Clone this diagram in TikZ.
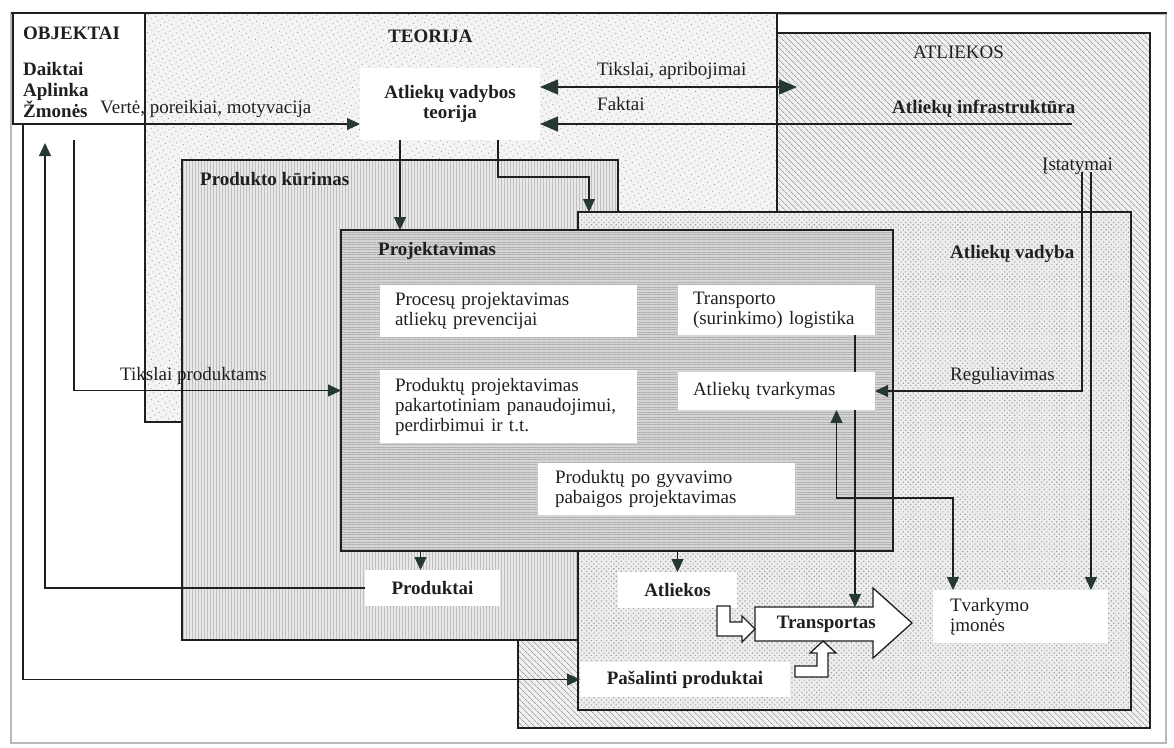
\documentclass[tikz,border=0pt]{standalone}
\usepackage{fontspec}
\setmainfont{Liberation Serif}
\usetikzlibrary{arrows.meta,patterns.meta}

\definecolor{ink}{RGB}{30,32,32}
\definecolor{tipc}{RGB}{38,56,50}

\tikzset{
  txt/.style={font=\fontsize{19}{20}\selectfont, text=ink},
  txtb/.style={font=\fontsize{19}{20}\selectfont\bfseries, text=ink},
  lbl/.style={txt, inner sep=0pt, anchor=base west},
  lblb/.style={txtb, inner sep=0pt, anchor=base west},
  area/.style={draw=ink, line width=1.4pt, inner sep=0pt, outer sep=0pt, anchor=north west},
  wbox/.style={fill=white, inner sep=0pt, outer sep=0pt, anchor=north west},
  wtext/.style={wbox, txt, align=left, inner xsep=15pt},
  wbold/.style={wbox, txtb, align=center},
  link/.style={draw=ink, line width=1.1pt},
  tipA/.tip={Triangle[length=13pt,width=12pt,color=tipc]},
  tipB/.tip={Triangle[length=18pt,width=15pt,color=tipc]},
  conn/.style={link, -tipA},
  dconn/.style={link, tipA-tipA},
  bigconn/.style={link, -tipB},
  bigdconn/.style={link, tipB-tipB},
  hollow/.style={draw=ink, line width=1.3pt, fill=white, line join=miter},
}

\begin{document}
\begin{tikzpicture}[x=1pt,y=-1pt]
\useasboundingbox (0,0) rectangle (1174,747);

% page frame
\draw[gray!55, line width=1.6pt] (11,14) rectangle (1166,743);
\draw[ink, line width=1.3pt] (11,13) -- (1167,13);

% nested areas, back to front
\node[area, minimum width=632pt, minimum height=695pt, preaction={fill=gray!12},
      pattern={Lines[angle=-45,distance=4pt,line width=.7pt]}, pattern color=gray!75] (atlbox) at (518,33) {};
\node[area, minimum width=632pt, minimum height=409pt, preaction={fill=gray!9},
      pattern={Dots[distance=5pt,radius=.6pt,angle=30]}, pattern color=gray!80] (teobox) at (145,13) {};
\node[area, minimum width=436pt, minimum height=480pt, preaction={fill=gray!18},
      pattern={Lines[angle=90,distance=3pt,line width=.8pt]}, pattern color=gray!50] (pkbox) at (182,160) {};
\node[area, minimum width=553pt, minimum height=498pt, preaction={fill=gray!14},
      pattern={Dots[distance=3.5pt,radius=.8pt,angle=45]}, pattern color=gray!75] (avbox) at (578,212) {};
\node[area, minimum width=552pt, minimum height=321pt, preaction={fill=gray!33},
      pattern={Lines[angle=0,distance=2.5pt,line width=.7pt]}, pattern color=gray!60] (projbox) at (341,230) {};
\node[area, fill=white, minimum width=132pt, minimum height=111pt] (objbox) at (13,13) {};

% area titles and free labels
\node[lblb] (objt) at (23,39) {OBJEKTAI};
\node[lblb] (daikt) at (23,75) {Daiktai};
\node[lblb] (aplink) at (23,96) {Aplinka};
\node[lblb] (zmon) at (23,117) {Žmonės};
\node[lbl] (vert) at (100,113) {Vertė, poreikiai, motyvacija};
\node[lblb] (teot) at (388,42) {TEORIJA};
\node[lbl] (tiks) at (597,75) {Tikslai, apribojimai};
\node[lbl] (fakt) at (597,110) {Faktai};
\node[lbl] (atlt) at (913,58) {ATLIEKOS};
\node[lblb] (infra) at (892,113) {Atliekų infrastruktūra};
\node[lbl] (ist) at (1042,170) {Įstatymai};
\node[lblb] (pkt) at (200,185) {Produkto kūrimas};
\node[lblb] (avt) at (950,258) {Atliekų vadyba};
\node[lblb] (projt) at (378,255) {Projektavimas};
\node[lbl] (tpt) at (120,380) {Tikslai produktams};
\node[lbl] (regt) at (950,380) {Reguliavimas};

% white boxes
\node[wbold, minimum width=180pt, minimum height=72pt] (teorija) at (360,68) {Atliekų vadybos\\teorija};
\node[wtext, text width=227pt, minimum height=52pt] (proc) at (380,285) {Procesų projektavimas\\atliekų prevencijai};
\node[wtext, text width=167pt, minimum height=50pt] (trans) at (678,285) {Transporto\\(surinkimo) logistika};
\node[wtext, text width=227pt, minimum height=73pt] (prodproj) at (380,370) {Produktų projektavimas\\pakartotiniam panaudojimui,\\perdirbimui ir t.t.};
\node[wtext, text width=167pt, minimum height=38pt] (tvark) at (678,372) {Atliekų tvarkymas};
\node[wtext, text width=223pt, inner xsep=17pt, minimum height=52pt] (pogyv) at (538,463) {Produktų po gyvavimo\\pabaigos projektavimas};
\node[wbold, minimum width=135pt, minimum height=36pt] (produktai) at (365,570) {Produktai};
\node[wbold, minimum width=119pt, minimum height=36pt] (atliekos) at (618,572) {Atliekos};
\node[wbold, minimum width=210pt, minimum height=35pt] (pasal) at (580,662) {Pašalinti produktai};
\node[wtext, text width=141pt, inner xsep=17pt, minimum height=53pt] (imones) at (933,590) {Tvarkymo\\įmonės};

% transport block arrow with its two feeding arrows
\draw[hollow] (755,607) -- (873,607) -- (873,588) -- (912,623) -- (873,658) -- (873,641) -- (755,641) -- cycle;
\node[txtb, inner sep=0pt, minimum width=142pt, minimum height=34pt, anchor=north west] (transp) at (755,607) {Transportas};
\draw[hollow] (717,606) -- (730,606) -- (730,622) -- (742,622) -- (742,616) -- (755,629) -- (742,642) -- (742,636) -- (717,636) -- cycle;
\draw[hollow] (795,677) -- (828,677) -- (828,653) -- (836,653) -- (823,641) -- (810,653) -- (817,653) -- (817,666) -- (795,666) -- cycle;

% free ends of connectors
\coordinate (tiksR) at (797,87);
\coordinate (faktR) at (1072,124);
\coordinate (tpStart) at (74,140);
\coordinate (objBack) at (45,143);
\coordinate (kx) at (855,0);
\coordinate (lx) at (953,498);
\coordinate (ist1) at (1082,172);
\coordinate (ist2) at (1091,172);

% connectors
\draw[conn] (objbox.south west) -- (objbox.south west -| teorija.west);
\draw[bigdconn] (teorija.east |- tiksR) -- (tiksR);
\draw[bigconn] (faktR) -- (teorija.east |- faktR);
\draw[conn] ([xshift=-50pt]teorija.south) -- ([xshift=-50pt]teorija.south |- projbox.north);
\draw[conn] ([xshift=48pt]teorija.south) -- ++(0,37) -| ([xshift=11pt]avbox.north west);
\draw[conn] (tpStart) |- (projbox.west);
\draw[conn] (produktai.west) -| (objBack);
\draw[conn] ([xshift=10pt]objbox.south west) |- (pasal.west);
\draw[conn] ([xshift=-12pt]produktai.north |- projbox.south) -- ([xshift=-12pt]produktai.north);
\draw[conn] (atliekos.north |- projbox.south) -- (atliekos.north);
\draw[link] (trans.south -| kx) -- (tvark.north -| kx);
\draw[conn] (tvark.south -| kx) -- (transp.north -| kx);
\draw[dconn] ([xshift=60pt]tvark.south) |- (lx) -- (lx |- imones.north);
\draw[conn] (ist1) |- (tvark.east);
\draw[conn] (ist2) -- (ist2 |- imones.north);
\end{tikzpicture}
\end{document}
